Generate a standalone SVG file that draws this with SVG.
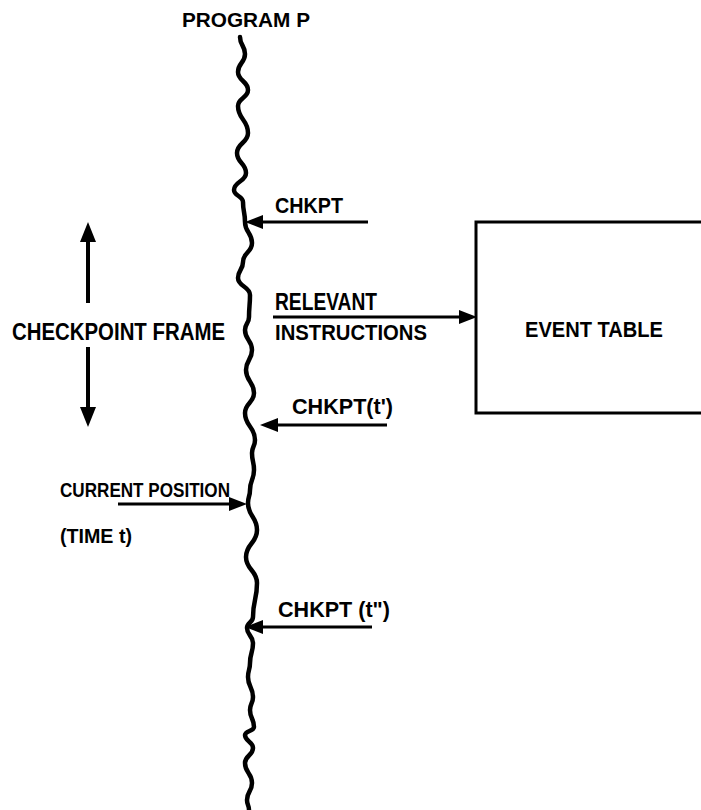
<svg xmlns="http://www.w3.org/2000/svg" width="701" height="810" viewBox="0 0 701 810">
<defs>
<style>
.bg{fill:#fff}
.ln{stroke:#000;stroke-width:3;fill:none}
.wave{stroke:#000;stroke-width:4.5;fill:none;stroke-linejoin:round;stroke-linecap:round}
.box{stroke:#000;stroke-width:3;fill:none}
.h{font-family:"Liberation Sans",Arial,sans-serif;font-weight:bold;fill:#000}
.s{font-family:"Liberation Sans",Arial,sans-serif;font-weight:bold;fill:#000}
</style>
<marker id="ah" markerWidth="18" markerHeight="14" refX="6" refY="7" orient="auto" markerUnits="userSpaceOnUse">
<path d="M0,0 L18,7 L0,14 z" fill="#000"/>
</marker>
<marker id="ahb" markerWidth="20" markerHeight="16" refX="6" refY="8" orient="auto" markerUnits="userSpaceOnUse">
<path d="M0,0 L20,8 L0,16 z" fill="#000"/>
</marker>
</defs>
<rect class="bg" x="0" y="0" width="701" height="810"/>

<g id="program">
<text class="s" x="182" y="27" font-size="20" textLength="128" lengthAdjust="spacingAndGlyphs">PROGRAM  P</text>
<path class="wave" d="M240,37 C240,45.5 245,45.5 245,54 C245,63 238,63 238,72 C238,81 248,81 248,90 C248,98 238,98 238,106 C238,119.5 248,119.5 248,133 C248,143 237,143 237,153 C237,163 246,163 246,173 C246,181.5 234,181.5 234,190 C234,196 243,196 243,202 C243,212 245,212 245,222 C245,232.5 252,232.5 252,243 C252,252.5 243,252.5 243,262 C243,270 238,270 238,278 C238,286.5 250,286.5 250,295 C250,306 249,306 249,317 C249,323.5 245,323.5 245,330 C245,340 252,340 252,350 C252,360 246,360 246,370 C246,381.5 254,381.5 254,393 C254,403 245,403 245,413 C245,426.5 255,426.5 255,440 C255,446.5 252,446.5 252,453 C252,461.5 254,461.5 254,470 C254,480 250,480 250,490 C250,496.5 248,496.5 248,503 C248,516.5 257,516.5 257,530 C257,543.5 246,543.5 246,557 C246,570 257,570 257,583 C257,600 253,600 253,617 C253,622.5 247,622.5 247,628 C247,635.5 253,635.5 253,643 C253,653 250,653 250,663 C250,670 248,670 248,677 C248,687 253,687 253,697 C253,703.5 250,703.5 250,710 C250,718.5 254,718.5 254,727 C254,731 245,731 245,735 C245,741.5 253,741.5 253,748 C253,755.5 245,755.5 245,763 C245,773 252,773 252,783 C252,791.5 247,791.5 247,800 C247,805 249,805 249,810"/>
</g>

<g id="event-table">
<rect class="box" x="476" y="222" width="240" height="191"/>
<text class="h" x="525" y="337" font-size="22" textLength="138" lengthAdjust="spacingAndGlyphs">EVENT TABLE</text>
</g>

<g id="checkpoint-frame">
<text class="h" x="12" y="340" font-size="23" textLength="213" lengthAdjust="spacingAndGlyphs">CHECKPOINT FRAME</text>
</g>

<g id="label-chkpt">
<text class="h" x="275" y="213" font-size="22" textLength="68" lengthAdjust="spacingAndGlyphs">CHKPT</text>
</g>
<g id="label-relevant">
<text class="s" x="275" y="310" font-size="23" textLength="102" lengthAdjust="spacingAndGlyphs">RELEVANT</text>
<text class="s" x="275" y="340" font-size="22" textLength="152" lengthAdjust="spacingAndGlyphs">INSTRUCTIONS</text>
</g>
<g id="label-chkpt-t1">
<text class="h" x="292" y="414" font-size="22" textLength="101" lengthAdjust="spacingAndGlyphs">CHKPT(t')</text>
</g>
<g id="label-current">
<text class="s" x="60" y="497" font-size="20" textLength="170" lengthAdjust="spacingAndGlyphs">CURRENT  POSITION</text>
<text class="s" x="60" y="543" font-size="20" textLength="72" lengthAdjust="spacingAndGlyphs">(TIME t)</text>
</g>
<g id="label-chkpt-t2">
<text class="h" x="278" y="617" font-size="22" textLength="112" lengthAdjust="spacingAndGlyphs">CHKPT (t")</text>
</g>

<g id="connectors">
<line class="ln" x1="368" y1="222" x2="257" y2="222" marker-end="url(#ah)"/>
<line class="ln" x1="273" y1="317" x2="465" y2="317" marker-end="url(#ah)"/>
<line class="ln" x1="387" y1="425" x2="272" y2="425" marker-end="url(#ah)"/>
<line class="ln" x1="118" y1="504" x2="235" y2="504" marker-end="url(#ah)"/>
<line class="ln" x1="372" y1="627" x2="257" y2="627" marker-end="url(#ah)"/>
<line class="ln" style="stroke-width:4" x1="88" y1="303" x2="88" y2="236" marker-end="url(#ahb)"/>
<line class="ln" style="stroke-width:4" x1="88" y1="347" x2="88" y2="413" marker-end="url(#ahb)"/>
</g>
</svg>
